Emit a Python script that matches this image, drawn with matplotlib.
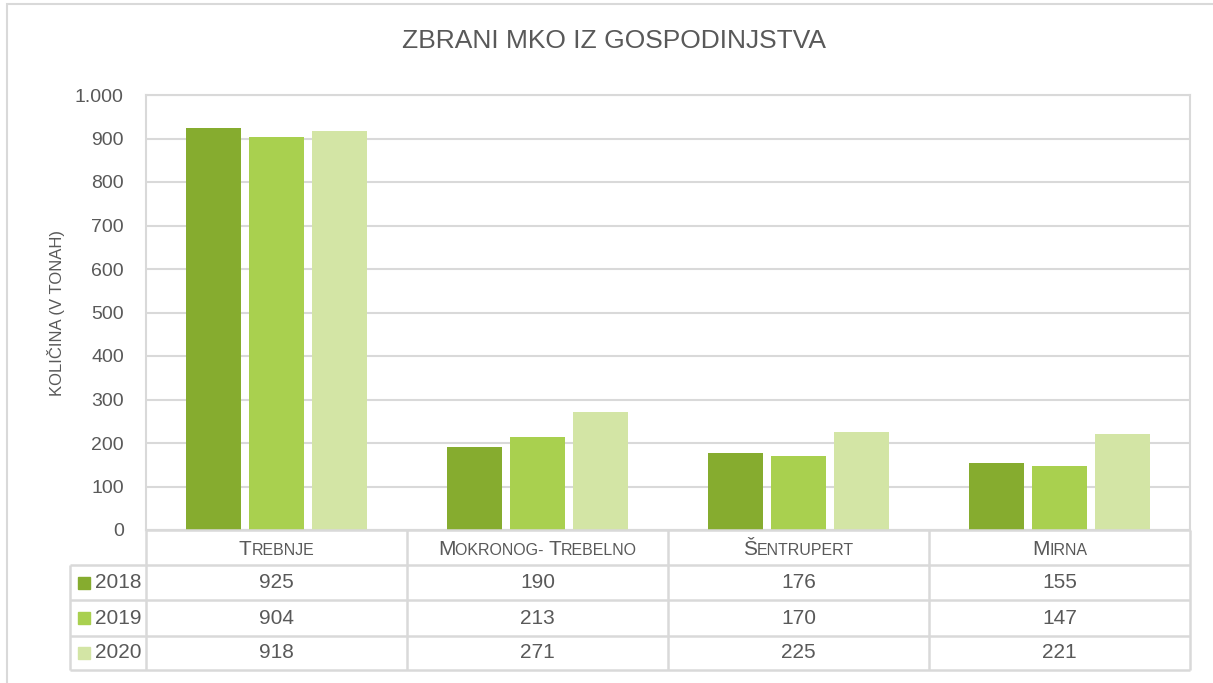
import matplotlib
matplotlib.use("Agg")
import matplotlib.pyplot as plt
from matplotlib import font_manager
from matplotlib.patches import Rectangle
import numpy as np

# data (tonnes)
categories = ["Trebnje", "Mokronog- Trebelno", "Šentrupert", "Mirna"]
years = ["2018", "2019", "2020"]
values_2018 = [925, 190, 176, 155]
values_2019 = [904, 213, 170, 147]
values_2020 = [918, 271, 225, 221]
series = [values_2018, values_2019, values_2020]
colors = ["#86AC2F", "#A9D04F", "#D3E5A5"]

names = {f.name for f in font_manager.fontManager.ttflist}
narrow = "Liberation Sans Narrow" if "Liberation Sans Narrow" in names else "Liberation Sans"
plt.rcParams["font.family"] = [narrow, "DejaVu Sans"]
txt = "#595959"
grid = "#D9D9D9"

W, H = 1213, 683
fig = plt.figure(figsize=(W / 100, H / 100), dpi=100)
# chart frame, only top and left edges fall inside the picture
fig.patches.append(Rectangle((7 / W, -20 / H), 1300 / W, (H - 4 + 20) / H, transform=fig.transFigure,
                             fill=False, edgecolor=grid, linewidth=1.5))

ax = fig.add_axes([146 / W, 1 - 530 / H, 1044 / W, 435 / H])
x = np.arange(len(categories))
for i, (vals, c) in enumerate(zip(series, colors)):
    ax.bar(x + (i - 1) * 0.242, vals, width=0.212, color=c, zorder=3)

ax.set_xlim(-0.5, len(categories) - 0.5)
ax.set_ylim(0, 1000)
ax.set_yticks(range(0, 1001, 100))
ax.set_yticklabels([f"{v:,}".replace(",", ".") for v in range(0, 1001, 100)])
ax.set_xticks([])
ax.tick_params(axis="y", length=0, pad=16, labelsize=14, labelcolor=txt)
ax.grid(axis="y", color=grid, linewidth=1.5, zorder=0)
for s in ax.spines.values():
    s.set_color(grid)
    s.set_linewidth(1.5)
ax.set_ylabel("KOLIČINA (V TONAH)", fontsize=12, color=txt, labelpad=7)

fig.text(614 / W, 1 - 41 / H, "ZBRANI MKO IZ GOSPODINJSTVA", fontsize=19,
         color=txt, ha="center", va="center")

# data table drawn in pixel coordinates
tab = fig.add_axes([0, 0, 1, 1], zorder=5)
tab.set_xlim(0, W)
tab.set_ylim(H, 0)
tab.axis("off")
edges = [ax.transData.transform((i - 0.5, 0))[0] for i in range(len(categories) + 1)]
top = H - ax.transData.transform((0, 0))[1]
rows = [top, 565, 600, 636, 670]
left = 70
kw = dict(color=grid, linewidth=1.8, solid_capstyle="butt")
tab.plot([edges[0], edges[-1]], [rows[0], rows[0]], **kw)
for r in rows[1:]:
    tab.plot([left, edges[-1]], [r, r], **kw)
for e in edges:
    tab.plot([e, e], [rows[0], rows[-1]], **kw)
tab.plot([left, left], [rows[1], rows[-1]], **kw)

renderer = fig.canvas.get_renderer()


def small_caps(cx, base, label, big=15, small=11.5):
    # split into runs of capital letters (big) and everything else (small caps)
    segs = []
    for ch in label:
        size = big if ch.isupper() else small
        if segs and segs[-1][1] == size:
            segs[-1][0] += ch.upper()
        else:
            segs.append([ch.upper(), size])
    arts, widths = [], []
    for s, size in segs:
        t = tab.text(0, base, s, fontsize=size, color=txt, va="baseline", ha="left")
        arts.append(t)
        widths.append(t.get_window_extent(renderer).width)
    xpos = cx - sum(widths) / 2
    for t, w in zip(arts, widths):
        t.set_x(xpos)
        xpos += w


for i, cat in enumerate(categories):
    small_caps((edges[i] + edges[i + 1]) / 2, 555, cat)

for j, (yr, vals, c) in enumerate(zip(years, series, colors)):
    yc = (rows[j + 1] + rows[j + 2]) / 2
    tab.add_patch(Rectangle((78, yc - 6), 12, 12, color=c))
    tab.text(95, yc, yr, fontsize=15, color=txt, va="center", ha="left")
    for i, v in enumerate(vals):
        tab.text((edges[i] + edges[i + 1]) / 2, yc, str(v), fontsize=15, color=txt,
                 va="center", ha="center")

fig.savefig("out.png", dpi=100)
